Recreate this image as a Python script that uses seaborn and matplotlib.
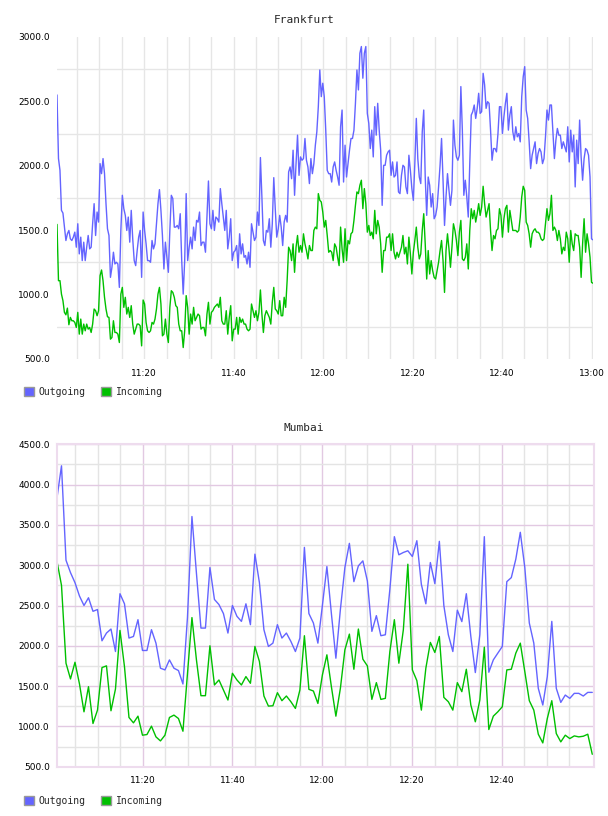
import matplotlib
matplotlib.use('Agg')
import matplotlib.pyplot as plt
import matplotlib.dates as mdates
from matplotlib.patches import Patch
from matplotlib.ticker import MultipleLocator, FixedLocator, FuncFormatter
import pandas as pd
import seaborn as sns

# Frankfurt: traffic sampled roughly every 20 seconds
fra_out = [
    2550, 2056, 1965, 1654, 1633, 1524, 1420, 1472, 1498, 1433, 1420, 1446, 1485, 1368, 1550, 1316,
    1446, 1264, 1407, 1264, 1368, 1459, 1355, 1368, 1550, 1706, 1459, 1641, 1563, 2017, 1939, 2056,
    1939, 1706, 1511, 1459, 1134, 1212, 1329, 1238, 1251, 1238, 1056, 1498, 1771, 1667, 1615, 1498,
    1602, 1407, 1654, 1433, 1264, 1225, 1342, 1446, 1498, 1134, 1641, 1498, 1394, 1264, 1264, 1251,
    1420, 1355, 1394, 1550, 1706, 1815, 1654, 1459, 1199, 1407, 1290, 1173, 1498, 1771, 1745, 1524,
    1524, 1537, 1511, 1628, 1264, 1004, 1264, 1784,
    1264, 1368, 1446, 1355, 1524, 1420, 1576, 1563, 1641, 1381, 1407, 1407, 1329, 1602, 1882, 1550,
    1511, 1654, 1498, 1602, 1589, 1563, 1823, 1706, 1602, 1498, 1654, 1355, 1446, 1589, 1264, 1329,
    1342, 1381, 1207, 1472, 1316, 1394, 1290, 1303, 1238, 1329, 1212, 1550, 1485, 1420, 1446, 1641,
    1537, 2064, 1758, 1420, 1381, 1498, 1485, 1589, 1368, 1550, 1908, 1667, 1446, 1511, 1615, 1524,
    1381, 1563, 1615, 1563, 1952, 1991, 1900, 2121, 1771, 2017, 2238, 1926, 2069, 2043, 2056, 2212,
    2043, 1991, 1862, 2056, 1939, 2017, 2160, 2264, 2459, 2744,
    2537, 2641, 2537, 2277, 1965, 1939, 1939, 1874, 1991, 2030, 1965, 1913, 1849, 2303, 2433, 1874,
    2160, 1913, 2017, 2121, 2212, 2212, 2277, 2485, 2744, 2589, 2874, 2926, 2680, 2874, 2926, 2407,
    2329, 2134, 2277, 2069, 2459, 2238, 2485, 2277, 2121, 1693, 2004, 2004, 2082, 2108, 2121, 1926,
    2030, 1913, 1926, 2030, 1797, 1784, 1926, 2004, 1991, 1836, 1784, 2082, 1965, 1823, 1732, 2017,
    2368, 2056, 1913, 1862, 2264, 2433, 1913, 1615, 1913, 1849, 1680, 1784, 1589, 1615, 1680, 1836,
    2004, 2212, 1888, 1537, 1758, 1939, 1810, 1693, 1810, 2355, 2160,
    2069, 2043, 2082, 2615, 2277, 1771, 1888, 1758, 1602, 2017, 2394, 2420, 2472, 2368, 2446, 2563,
    2407, 2420, 2718, 2628, 2446, 2498, 2485, 2277, 2043, 2134, 2134, 2108, 2251, 2459, 2459, 2251,
    2381, 2485, 2563, 2277, 2394, 2459, 2264, 2199, 2303, 2225, 2251, 2186, 2537, 2692, 2770, 2433,
    2368, 2186, 1978, 2082, 2134, 2186, 2017, 2095, 2134, 2108, 2017, 2056, 2225, 2433, 2355, 2472,
    2472, 2264, 2056, 2199, 2290, 2238, 2238, 2134, 2186, 2147, 2108, 2303, 2030, 2277, 2108, 2238,
    1836, 2199, 2017, 2355, 2069, 1888, 2056, 2134, 2121, 2082, 1913, 1433, 1425,
]
fra_in = [
    1545, 1108, 1108, 1004, 953, 862, 843, 895, 766, 823, 797, 797, 784, 745, 862, 693,
    810, 693, 771, 719, 771, 732, 745, 706, 771, 888, 875, 836, 875, 1147, 1191, 1108,
    979, 888, 828, 823, 654, 667, 797, 706, 706, 693, 628, 1004, 1056, 901, 979, 849,
    901, 823, 914, 771, 693, 732, 771, 771, 758, 602, 958, 927, 784, 719, 706, 719,
    784, 771, 810, 888, 1004, 1056, 927, 680, 693, 810, 693, 628, 901, 1030, 1017, 979,
    914, 901, 771, 719, 719, 589, 719, 992,
    901, 693, 849, 771, 901, 797, 823, 849, 836, 732, 745, 745, 680, 849, 940, 771,
    862, 875, 901, 914, 927, 901, 979, 797, 771, 771, 875, 693, 823, 914, 641, 732,
    732, 823, 693, 823, 784, 810, 771, 771, 732, 719, 732, 927, 875, 823, 875, 797,
    862, 1036, 849, 706, 836, 875, 849, 823, 771, 940, 1056, 888, 875, 849, 953, 836,
    836, 979, 901, 1108, 1368, 1342, 1264, 1394, 1173, 1368, 1459, 1329, 1381, 1329, 1472, 1394,
    1342, 1277, 1381, 1342, 1342, 1498, 1524, 1511, 1784, 1732,
    1719, 1641, 1524, 1576, 1459, 1329, 1342, 1329, 1264, 1394, 1368, 1290, 1225, 1524, 1355, 1251,
    1511, 1264, 1420, 1394, 1472, 1485, 1576, 1693, 1797, 1784, 1849, 1888, 1667, 1823, 1706, 1485,
    1537, 1459, 1485, 1433, 1654, 1472, 1576, 1524, 1394, 1173, 1342, 1342, 1446, 1446, 1472, 1342,
    1472, 1329, 1277, 1329, 1290, 1329, 1368, 1459, 1316, 1368, 1238, 1446, 1316, 1160, 1329, 1420,
    1524, 1368, 1277, 1316, 1498, 1628, 1394, 1121, 1342, 1160, 1264, 1186, 1134, 1121, 1186, 1251,
    1342, 1420, 1264, 1017, 1342, 1472, 1355, 1212, 1368, 1550, 1498,
    1420, 1303, 1485, 1576, 1277, 1264, 1290, 1394, 1199, 1498, 1667, 1589, 1654, 1563, 1628, 1706,
    1615, 1680, 1841, 1706, 1602, 1654, 1706, 1498, 1342, 1459, 1433, 1498, 1511, 1667, 1615, 1446,
    1589, 1667, 1693, 1485, 1654, 1576, 1498, 1498, 1498, 1485, 1498, 1602, 1758, 1841, 1810, 1563,
    1537, 1472, 1368, 1472, 1498, 1511, 1485, 1485, 1472, 1433, 1420, 1433, 1550, 1667, 1576, 1628,
    1771, 1498, 1524, 1498, 1420, 1498, 1433, 1316, 1368, 1342, 1485, 1433, 1251, 1498, 1394, 1342,
    1472, 1459, 1459, 1368, 1134, 1394, 1589, 1329, 1472, 1394, 1290, 1095, 1088,
]

# Mumbai: one sample per minute
bom_out = [
    3837, 4233, 3062, 2908, 2783, 2617, 2500, 2596, 2428, 2450, 2062, 2158, 2208, 1929, 2646, 2521,
    2096, 2116, 2324, 1942, 1942, 2200, 2033, 1722, 1701, 1825, 1722, 1693, 1526, 2350, 3604, 2900,
    2220, 2220, 2971, 2575, 2512, 2400, 2158, 2500, 2366, 2303, 2521, 2262, 3137, 2783, 2200, 1992,
    2033, 2262, 2096, 2158, 2054, 1929, 2096, 3221, 2400, 2283, 2033, 2500, 2983, 2400, 1846, 2450,
    2971, 3271, 2796, 2992, 3054, 2804, 2179, 2374, 2125, 2137, 2700, 3354, 3129, 3158, 3179, 3108,
    3304, 2763, 2521, 3033, 2771, 3296, 2500, 2137, 1929, 2442, 2300, 2646, 2116, 1668, 2137, 3354,
    1672, 1825, 1909, 1992, 2796, 2846, 3075, 3408, 2971, 2283, 2033, 1472, 1265, 1618, 2303, 1472,
    1298, 1389, 1348, 1410, 1410, 1377, 1422, 1422,
]
bom_in = [
    3046, 2750, 1784, 1589, 1796, 1526, 1181, 1493, 1036, 1202, 1730, 1751, 1194, 1464, 2191, 1742,
    1111, 1044, 1127, 891, 899, 1003, 870, 820, 891, 1111, 1140, 1098, 940, 1650, 2350, 1825,
    1381, 1381, 2000, 1514, 1576, 1452, 1327, 1659, 1576, 1514, 1618, 1535, 1992, 1805, 1377, 1252,
    1256, 1418, 1319, 1377, 1306, 1223, 1452, 2125, 1460, 1439, 1285, 1638, 1888, 1493, 1127, 1472,
    1950, 2145, 1709, 2208, 1834, 1751, 1335, 1543, 1335, 1348, 1929, 2324, 1784, 2200, 3012, 1701,
    1568, 1202, 1722, 2042, 1917, 2116, 1360, 1306, 1202, 1543, 1431, 1709, 1265, 1057, 1327, 1983,
    961, 1127, 1181, 1244, 1701, 1709, 1909, 2033, 1680, 1319, 1202, 903, 795, 1098, 1319, 911,
    808, 891, 849, 882, 870, 878, 903, 654,
]

colors = {'Outgoing': '#6464ff', 'Incoming': '#00c000'}
day = '2000-01-01 '


def frame(out, inc, start, end):
    parts = []
    for name, vals in (('Outgoing', out), ('Incoming', inc)):
        t = pd.date_range(day + start, day + end, periods=len(vals))
        parts.append(pd.DataFrame({'time': t, 'value': vals, 'series': name}))
    return pd.concat(parts, ignore_index=True)


def minutes(hhmm):
    return [mdates.date2num(pd.Timestamp(day + h)) for h in hhmm]


sns.set_style('white')
plt.rcParams['font.family'] = ['DejaVu Sans']

W, H = 608, 816
fig = plt.figure(figsize=(W / 100, H / 100), dpi=100)


def add_legend(y_px):
    handles = [Patch(facecolor=c, edgecolor='#999999', linewidth=1, label=n) for n, c in colors.items()]
    fig.legend(handles=handles, loc='center left', bbox_to_anchor=(24 / W, 1 - y_px / H), ncol=2,
               frameon=False, prop={'family': 'DejaVu Sans Mono', 'size': 7}, handlelength=1.0,
               handleheight=1.0, handletextpad=0.5, columnspacing=1.6, borderpad=0, borderaxespad=0)


def style_axis(ax):
    ax.set_xlabel('')
    ax.set_ylabel('')
    ax.set_axisbelow(True)
    ax.yaxis.set_major_locator(MultipleLocator(500))
    ax.yaxis.set_major_formatter(FuncFormatter(lambda v, p: f'{v:.1f}'))
    ax.xaxis.set_major_formatter(mdates.DateFormatter('%H:%M'))
    ax.tick_params(which='both', length=0, labelsize=6.5, colors='black')
    ax.tick_params(axis='y', pad=5)
    ax.tick_params(axis='x', pad=7)


# ---- Frankfurt ----
df_fra = frame(fra_out, fra_in, '11:00:30', '13:00:20')
ax1 = fig.add_axes([57 / W, 1 - 359 / H, 536 / W, 322 / H])
sns.lineplot(data=df_fra, x='time', y='value', hue='series', palette=colors, linewidth=1.0,
             legend=False, ax=ax1)
ax1.set_xlim(pd.Timestamp(day + '11:00:30'), pd.Timestamp(day + '13:00:20'))
ax1.set_ylim(500, 3000)
style_axis(ax1)
ax1.xaxis.set_major_locator(FixedLocator(minutes(['11:20', '11:40', '12:00', '12:20', '12:40', '13:00'])))
ax1.xaxis.set_minor_locator(mdates.MinuteLocator(byminute=range(0, 60, 5)))
ax1.yaxis.set_minor_locator(FixedLocator([750, 1250, 1750, 2250, 2750]))
ax1.grid(False)
ax1.grid(True, which='both', axis='x', color='#e6e6e6', linewidth=1)
ax1.grid(True, which='minor', axis='y', color='#e6e6e6', linewidth=1)
for s in ax1.spines.values():
    s.set_visible(False)
fig.text(0.5, 1 - 20 / H, 'Frankfurt', ha='center', va='center', family='DejaVu Sans Mono', size=8)
add_legend(392)

# ---- Mumbai ----
df_bom = frame(bom_out, bom_in, '11:00:55', '13:00:08')
ax2 = fig.add_axes([57 / W, 1 - 766.7 / H, 537 / W, 322.4 / H])
sns.lineplot(data=df_bom, x='time', y='value', hue='series', palette=colors, linewidth=1.0,
             legend=False, ax=ax2)
ax2.set_xlim(pd.Timestamp(day + '11:00:55'), pd.Timestamp(day + '13:00:31'))
ax2.set_ylim(500, 4500)
style_axis(ax2)
ax2.xaxis.set_major_locator(FixedLocator(minutes(['11:20', '11:40', '12:00', '12:20', '12:40'])))
minor_x = [f'{h}:{m:02d}' for h in (11, 12) for m in range(0, 60, 5)
           if f'{h}:{m:02d}' not in ('11:00', '11:20', '11:40', '12:00', '12:20', '12:40')]
ax2.xaxis.set_minor_locator(FixedLocator(minutes(minor_x)))
ax2.yaxis.set_minor_locator(MultipleLocator(250))
ax2.grid(False)
ax2.grid(True, which='major', color='#e2c9e2', linewidth=1)
ax2.grid(True, which='minor', color='#e4e4e4', linewidth=1)
for s in ax2.spines.values():
    s.set_visible(True)
    s.set_color('#eedcee')
    s.set_linewidth(1.5)
fig.text(0.5, 1 - 428 / H, 'Mumbai', ha='center', va='center', family='DejaVu Sans Mono', size=8)
add_legend(801)

fig.savefig('out.png', dpi=100)
